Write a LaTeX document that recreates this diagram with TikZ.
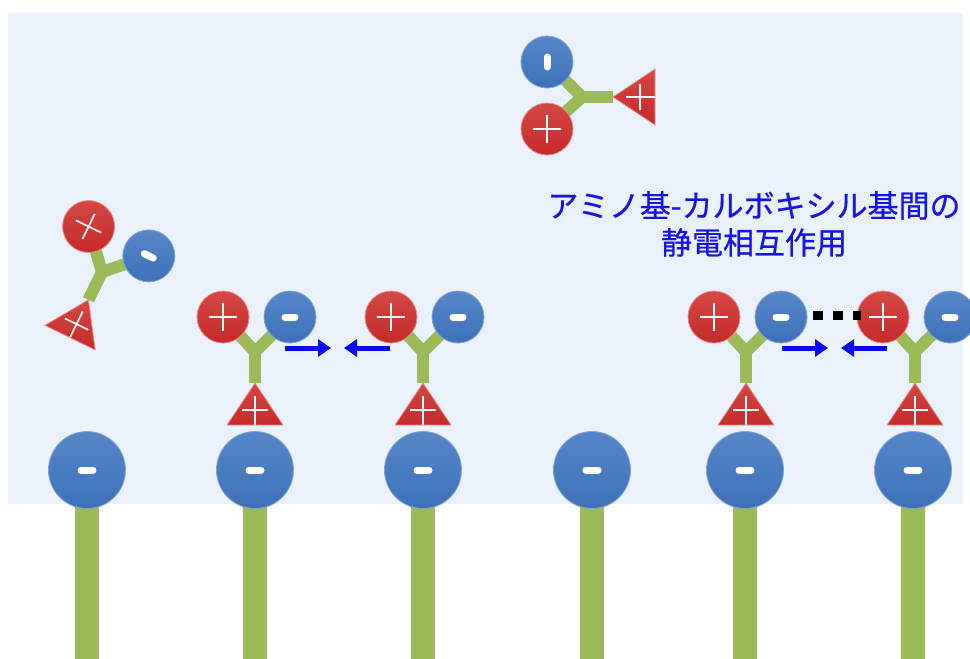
\documentclass[tikz,border=0pt]{standalone}
\usepackage{fontspec}
\newfontfamily\jpfont[FakeBold=0.6]{Noto Sans CJK JP}
\usetikzlibrary{arrows.meta}

\definecolor{panel}{HTML}{EAF1FA}
\definecolor{ballred}{HTML}{C42B2A}
\definecolor{ballredtop}{HTML}{D44843}
\definecolor{ballredrim}{HTML}{EC8F8A}
\definecolor{ballblue}{HTML}{3D70B8}
\definecolor{ballbluetop}{HTML}{5587C8}
\definecolor{ballbluerim}{HTML}{7EA5D9}
\definecolor{stemgreen}{HTML}{9BBB59}
\definecolor{textblue}{HTML}{1414E6}
\definecolor{pushblue}{HTML}{0A0AF0}

\tikzset{
  redball/.style={circle, minimum size=52pt, inner sep=0pt,
    top color=ballredtop, bottom color=ballred, draw=ballredrim, line width=0.8pt},
  blueball/.style={circle, minimum size=52pt, inner sep=0pt,
    top color=ballbluetop, bottom color=ballblue, draw=ballbluerim, line width=0.8pt},
  baseball/.style={blueball, minimum size=77pt},
  arm/.style={draw=stemgreen, line width=12pt},
  stem/.style={draw=stemgreen, line width=24pt},
  signline/.style={draw=white, line width=1.6pt},
  minusbar/.style={draw=white, line width=7pt, line cap=round},
  redtri/.style={top color=ballredtop, bottom color=ballred, draw=ballredrim, line width=0.8pt},
  push/.style={draw=pushblue, line width=5pt, -{Triangle[length=13pt,width=17pt]}},
  bond/.style={draw=black, line width=9pt, dash pattern=on 10pt off 10pt},
  % amino acid: red (+) ball, blue (-) ball and a red (+) triangle on a green Y
  molecule/.pic={
    \coordinate (-j) at (0pt,0pt);
    \coordinate (-rc) at (-32pt,35pt);
    \coordinate (-bc) at (35pt,35pt);
    \coordinate (-tip) at (0pt,-31pt);
    \draw[arm] (-rc) -- (-j) -- (-bc);
    \draw[arm] (-j) -- (-tip);
    \node[redball] (-r) at (-rc) {};
    \node[blueball] (-b) at (-bc) {};
    \path[redtri] (-tip) -- (28pt,-73pt) -- (-28pt,-73pt) -- cycle;
    \draw[signline] (-46pt,35pt) -- (-18pt,35pt) (-32pt,21pt) -- (-32pt,49pt);
    \draw[minusbar] (30pt,35pt) -- (40pt,35pt);
    \draw[signline] (-13pt,-58pt) -- (13pt,-58pt) (0pt,-44pt) -- (0pt,-72.5pt);
  }
}

\begin{document}
\begin{tikzpicture}[x=1pt, y=1pt]
  \useasboundingbox (0,0) rectangle (970,-659);
  \fill[white] (0,0) rectangle (970,-659);
  \fill[panel] (8,-13) rectangle (963,-504);

  % anchored chains with their negative end groups
  \foreach \i/\x in {1/87,2/255,3/423,4/592,5/745,6/913}{
    \coordinate (head\i) at (\x,-490);
    \coordinate (foot\i) at (\x,-659);
    \draw[stem] (head\i) -- (foot\i);
    \node[baseball] (site\i) at (\x,-470) {};
    \draw[minusbar] ([xshift=-6pt]site\i.center) -- ([xshift=6pt]site\i.center);
  }

  % free molecules
  \pic[rotate=90] (mt) at (582,-97) {molecule};
  \pic[rotate=-26] (ml) at (102,-272) {molecule};

  % adsorbed molecules
  \pic (m1) at (255,-352) {molecule};
  \pic (m2) at (423,-352) {molecule};
  \pic (m3) at (746,-352) {molecule};
  \pic (m4) at (915,-352) {molecule};

  % attraction arrows
  \coordinate (p1a) at (285,-348); \coordinate (p1b) at (331,-348);
  \coordinate (p2a) at (390,-348); \coordinate (p2b) at (344,-348);
  \coordinate (p3a) at (782,-348); \coordinate (p3b) at (828,-348);
  \coordinate (p4a) at (887,-348); \coordinate (p4b) at (841,-348);
  \draw[push] (p1a) -- (p1b);
  \draw[push] (p2a) -- (p2b);
  \draw[push] (p3a) -- (p3b);
  \draw[push] (p4a) -- (p4b);

  % electrostatic bond
  \draw[bond] ([xshift=6pt,yshift=2pt]m3-b.east) -- ([xshift=4pt,yshift=2pt]m4-r.west);

  \node[font=\jpfont\fontsize{31}{37}\selectfont, text=textblue, align=center]
    (note) at (754,-224) {アミノ基-カルボキシル基間の\\静電相互作用};
\end{tikzpicture}
\end{document}
